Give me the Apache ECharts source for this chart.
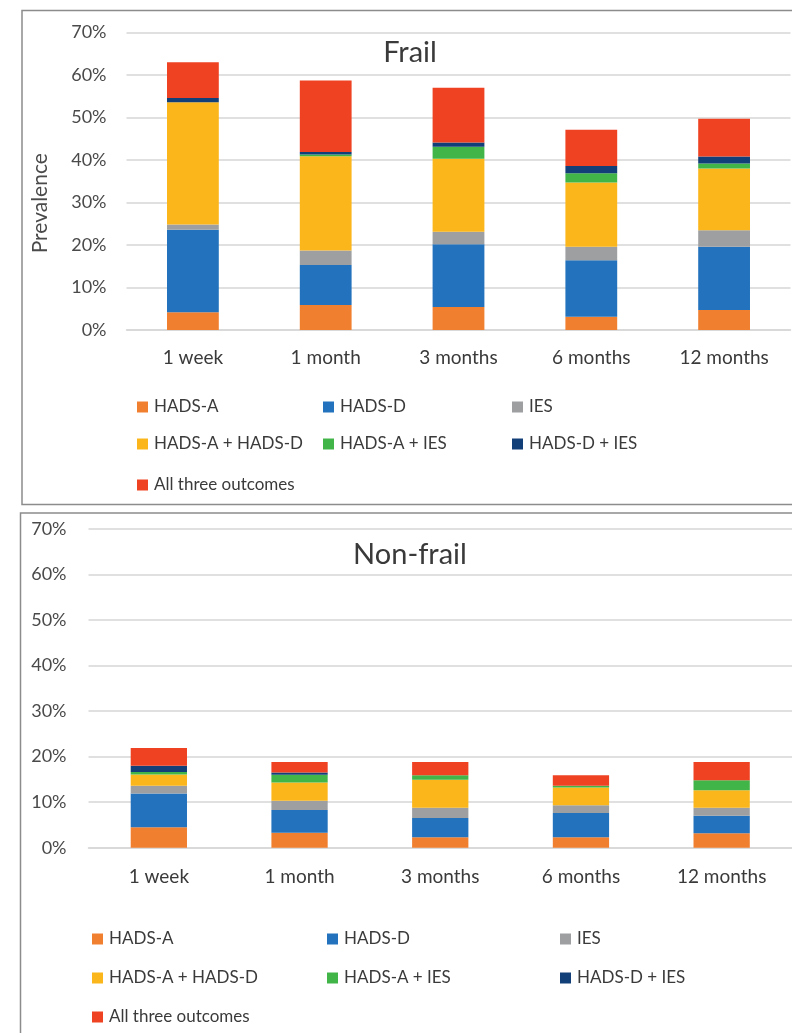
<!DOCTYPE html>
<html>
<head>
<meta charset="utf-8">
<script src="https://cdn.jsdelivr.net/npm/echarts@6/dist/echarts.min.js"></script>
<style>
html,body{margin:0;padding:0;background:#fff;}
#c{width:792px;height:1033px;}
</style>
</head>
<body>
<div id="c"></div>
<script>
// ---- data ----
const categories = ['1 week', '1 month', '3 months', '6 months', '12 months'];
const seriesNames = ['HADS-A', 'HADS-D', 'IES', 'HADS-A + HADS-D', 'HADS-A + IES', 'HADS-D + IES', 'All three outcomes'];
const yTicks = [0, 10, 20, 30, 40, 50, 60, 70];

// Frail (% prevalence)
const frailHadsA      = [4.2, 5.9, 5.4, 3.1, 4.7];
const frailHadsD      = [19.4, 9.4, 14.8, 13.3, 14.9];
const frailIes        = [1.2, 3.4, 2.9, 3.2, 3.9];
const frailHadsAHadsD = [28.8, 22.2, 17.2, 15.1, 14.5];
const frailHadsAIes   = [0, 0.4, 2.8, 2.2, 1.2];
const frailHadsDIes   = [1.0, 0.6, 1.0, 1.7, 1.6];
const frailAllThree   = [8.4, 16.8, 12.9, 8.5, 8.9];

// Non-frail (% prevalence)
const nonHadsA      = [4.5, 3.3, 2.3, 2.3, 3.2];
const nonHadsD      = [7.4, 5.0, 4.2, 5.3, 3.8];
const nonIes        = [1.7, 2.0, 2.3, 1.7, 1.8];
const nonHadsAHadsD = [2.5, 4.0, 6.1, 3.9, 3.8];
const nonHadsAIes   = [0.5, 1.7, 1.0, 0.4, 2.2];
const nonHadsDIes   = [1.4, 0.5, 0, 0, 0];
const nonAllThree   = [3.9, 2.3, 2.9, 2.3, 4.0];

// ---- build ----
const colors = ['#F07F30', '#2272BD', '#9D9FA1', '#FBB61B', '#42B549', '#123F78', '#EE4223'];
const frailData = [frailHadsA, frailHadsD, frailIes, frailHadsAHadsD, frailHadsAIes, frailHadsDIes, frailAllThree];
const nonData = [nonHadsA, nonHadsD, nonIes, nonHadsAHadsD, nonHadsAIes, nonHadsDIes, nonAllThree];

const FONT = 'Lato';
const gridColor = '#d6d6d6';

function xAxisFor(gi) {
  return {
    type: 'category', gridIndex: gi, data: categories,
    axisTick: {show: false},
    axisLine: {lineStyle: {color: gridColor, width: 1.5}},
    axisLabel: {color: '#3a3a3a', fontFamily: FONT, fontSize: 19, margin: gi === 0 ? 18 : 20}
  };
}
function yAxisFor(gi) {
  const ax = {
    type: 'value', gridIndex: gi, min: yTicks[0], max: yTicks[yTicks.length - 1], interval: 10,
    axisLine: {show: false}, axisTick: {show: false},
    splitLine: {lineStyle: {color: gridColor, width: 1.5}},
    axisLabel: {color: '#4a4a4a', fontFamily: FONT, fontSize: 18, margin: gi === 0 ? 20 : 22,
      formatter: v => v + '%'}
  };
  if (gi === 0) {
    ax.name = 'Prevalence';
    ax.nameLocation = 'middle';
    ax.nameGap = 76;
    ax.nameTextStyle = {color: '#4a4a4a', fontFamily: FONT, fontSize: 21, padding: [0, 44, 0, 0]};
  }
  return ax;
}

const series = [];
seriesNames.forEach((n, i) => {
  series.push({name: n, type: 'bar', stack: 'frail', xAxisIndex: 0, yAxisIndex: 0,
    data: frailData[i], itemStyle: {color: colors[i]}, barWidth: '39%'});
});
seriesNames.forEach((n, i) => {
  series.push({name: n, type: 'bar', stack: 'non', xAxisIndex: 1, yAxisIndex: 1,
    data: nonData[i], itemStyle: {color: colors[i]}, barWidth: '40%'});
});

const legends = [];
function addLegends(cols, rows) {
  seriesNames.forEach((n, i) => {
    legends.push({
      data: [n], left: cols[i % 3], top: rows[Math.floor(i / 3)] - 10,
      padding: 0, itemWidth: 11, itemHeight: 11, icon: 'rect', itemGap: 0,
      selectedMode: false,
      textStyle: {color: '#3a3a3a', fontFamily: FONT, fontSize: 17, lineHeight: 20, padding: [0, 0, 0, 1]}
    });
  });
}
addLegends([137, 323, 512], [407, 444, 485]);
addLegends([92, 327, 560], [939, 978, 1017]);

const chart = echarts.init(document.getElementById('c'), null, {renderer: 'canvas'});
chart.setOption({
  animation: false,
  backgroundColor: '#ffffff',
  title: [
    {text: 'Frail', left: 410, top: 37, textAlign: 'center', padding: 0,
      textStyle: {color: '#3a3a3a', fontFamily: FONT, fontSize: 29, fontWeight: 'normal', lineHeight: 32}},
    {text: 'Non-frail', left: 410, top: 539, textAlign: 'center', padding: 0,
      textStyle: {color: '#3a3a3a', fontFamily: FONT, fontSize: 29, fontWeight: 'normal', lineHeight: 32}}
  ],
  legend: legends,
  grid: [
    {left: 126.5, top: 32.5, width: 664, height: 297.5},
    {left: 88.5, top: 529, width: 715.5, height: 318.7}
  ],
  xAxis: [xAxisFor(0), xAxisFor(1)],
  yAxis: [yAxisFor(0), yAxisFor(1)],
  series: series,
  graphic: [
    {type: 'rect', z: -1, shape: {x: 22, y: 10.5, width: 800, height: 494},
      style: {fill: null, stroke: '#8c8c8c', lineWidth: 1.5}},
    {type: 'rect', z: -1, shape: {x: 20.5, y: 513, width: 800, height: 600},
      style: {fill: null, stroke: '#8c8c8c', lineWidth: 1.5}}
  ]
});
</script>
</body>
</html>
